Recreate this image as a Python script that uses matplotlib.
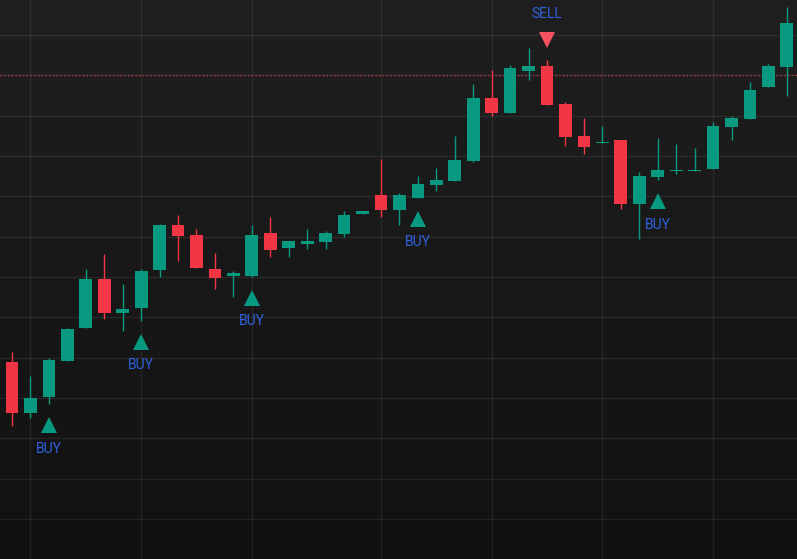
import matplotlib
matplotlib.use("Agg")
import numpy as np
import matplotlib.pyplot as plt
from matplotlib.colors import LinearSegmentedColormap

# OHLC (price units, one grid step = 1.0)
opens = [54.36, 53.89, 52.64, 53.03, 53.93, 54.74, 55.95, 55.10, 55.24, 56.17, 57.29,
         57.04, 56.20, 56.03, 56.03, 57.10, 56.73, 56.83, 56.88, 57.07, 57.56, 58.03,
         57.66, 57.97, 58.28, 58.39, 58.88, 60.43, 60.07, 61.12, 61.23, 60.28, 59.50,
         59.32, 59.40, 57.82, 58.49, 58.62, 58.62, 58.68, 59.73, 59.92, 60.71, 61.21]
highs = [54.44, 54.14, 53.55, 53.99, 54.74, 56.20, 56.57, 55.84, 56.20, 57.31, 57.54,
         57.19, 56.60, 56.15, 57.29, 57.50, 56.89, 57.19, 57.14, 57.64, 57.64, 58.94,
         58.09, 58.50, 58.71, 59.50, 60.79, 61.13, 61.27, 61.67, 61.38, 60.33, 59.95,
         59.74, 59.40, 58.60, 59.45, 59.30, 59.21, 59.84, 59.99, 60.84, 61.28, 62.70]
lows = [53.74, 52.31, 52.51, 52.85, 53.93, 54.74, 54.97, 54.67, 54.92, 56.01, 56.40,
        56.22, 55.70, 55.51, 56.01, 56.50, 56.50, 56.69, 56.69, 57.00, 57.56, 57.50,
        57.29, 57.97, 58.14, 58.39, 58.86, 59.99, 60.07, 60.89, 60.27, 59.26, 59.05,
        59.32, 57.69, 56.95, 58.41, 58.56, 58.62, 58.68, 59.41, 59.92, 60.71, 60.50]
closes = [53.87, 52.64, 53.01, 53.94, 54.71, 55.95, 55.10, 55.20, 56.15, 57.29, 57.02,
          56.23, 55.98, 56.10, 57.04, 56.67, 56.89, 56.89, 57.10, 57.54, 57.64, 57.66,
          58.03, 58.31, 58.41, 58.90, 60.43, 60.07, 61.18, 61.23, 60.27, 59.48, 59.23,
          59.35, 57.82, 58.50, 58.65, 58.65, 58.65, 59.75, 59.95, 60.64, 61.24, 62.31]
# first bar sits just off the left edge
bar_index = list(range(-1, 43))

buy_index = [2, 7, 13, 22, 35]
sell_index = [29]
level = 61.0
vgrid_index = [1, 7, 13, 20, 26, 32, 38]

up = "#089981"
down = "#f23645"
label_col = "#2f62e0"

fig = plt.figure(figsize=(7.97, 5.59), dpi=100)
ax = fig.add_axes([0, 0, 1, 1])

# background gradient
bg = LinearSegmentedColormap.from_list("bg", ["#111111", "#1f1f1f"])
ax.imshow(np.linspace(0, 1, 256).reshape(-1, 1)[::-1], cmap=bg, aspect="auto",
          extent=[0, 1, 0, 1], transform=ax.transAxes, zorder=0)

for g in range(50, 63):
    ax.axhline(g, color="white", alpha=0.07, lw=1, zorder=1)
for g in vgrid_index:
    ax.axvline(g, color="white", alpha=0.07, lw=1, zorder=1)

ax.axhline(level, color=down, lw=0.9, ls=(0, (1, 2)), alpha=0.85, zorder=2)

for i, o, h, l, c in zip(bar_index, opens, highs, lows, closes):
    col = up if c >= o else down
    ax.vlines(i, l, h, color=col, lw=1, zorder=3)
    ax.bar(i, max(abs(c - o), 0.03), bottom=min(o, c), width=0.69, color=col,
           linewidth=0, zorder=4)

low_map = dict(zip(bar_index, lows))
high_map = dict(zip(bar_index, highs))
lab_font = ["Roboto", "DejaVu Sans"]
for i in buy_index:
    ax.plot(i, low_map[i] - 0.52, marker="^", ms=11.5, color=up, mew=0, zorder=5)
    ax.text(i, low_map[i] - 1.11, "BUY", color=label_col, fontsize=10,
            family=lab_font, ha="center", va="center", zorder=5)
for i in sell_index:
    ax.plot(i, high_map[i] + 0.50, marker="v", ms=11.5, color="#f7525f", mew=0, zorder=5)
    ax.text(i, high_map[i] + 1.14, "SELL", color=label_col, fontsize=10,
            family=lab_font, ha="center", va="center", zorder=5)

ax.set_xlim(-0.65, 42.55)
ax.set_ylim(49.01, 62.87)
ax.axis("off")

fig.savefig("out.png", dpi=100)
